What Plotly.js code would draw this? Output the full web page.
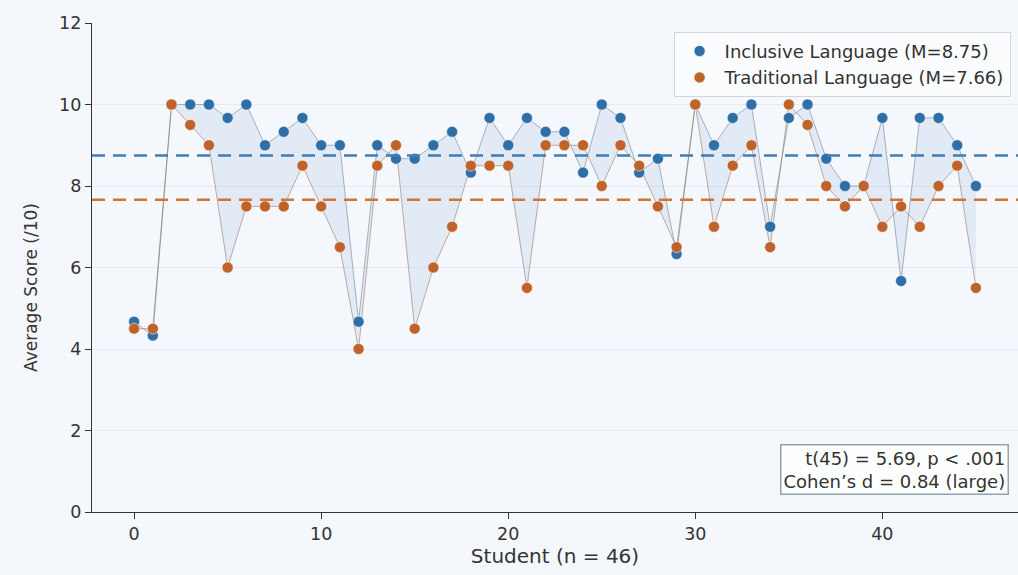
<!DOCTYPE html>
<html>
<head>
<meta charset="utf-8">
<script src="https://cdn.plot.ly/plotly-3.0.1.min.js"></script>
<style>html,body{margin:0;padding:0;background:#f4f7fb;}#chart{width:1018px;height:575px;}</style>
</head>
<body>
<div id="chart"></div>
<script>
const students = Array.from({length: 46}, (_, i) => i);
const inclusive = [4.67,4.33,10,10,10,9.67,10,9,9.33,9.67,
  9,9,4.67,9,8.67,8.67,9,9.33,8.33,9.67,
  9,9.67,9.33,9.33,8.33,10,9.67,8.33,8.67,6.33,
  10,9,9.67,10,7,9.67,10,8.67,8,8,
  9.67,5.67,9.67,9.67,9,8];
const traditional = [4.5,4.5,10,9.5,9,6,7.5,7.5,7.5,8.5,
  7.5,6.5,4,8.5,9,4.5,6,7,8.5,8.5,
  8.5,5.5,9,9,9,8,9,8.5,7.5,6.5,
  10,7,8.5,9,6.5,10,9.5,8,7.5,8,
  7,7.5,7,8,8.5,5.5];
const yTicks = [0,2,4,6,8,10,12];
const xTicks = [0,10,20,30,40];

const mean = a => a.reduce((s, v) => s + v, 0) / a.length;
const mInc = mean(inclusive), mTrad = mean(traditional);
const blue = '#2f6fa8', orange = '#c0632a';
const font = 'DejaVu Sans, sans-serif';

const traces = [
  {x: students, y: inclusive, mode: 'lines', line: {color: 'rgba(110,120,135,0.55)', width: 1}, showlegend: false, hoverinfo: 'skip'},
  {x: students, y: traditional, mode: 'lines', line: {color: 'rgba(150,110,95,0.55)', width: 1}, fill: 'tonexty', fillcolor: 'rgba(60,130,200,0.10)', showlegend: false, hoverinfo: 'skip'},
  {x: students, y: inclusive, mode: 'markers', name: 'Inclusive Language (M=' + mInc.toFixed(2) + ')',
   marker: {color: blue, size: 11, line: {color: 'rgba(255,255,255,0.5)', width: 1}}},
  {x: students, y: traditional, mode: 'markers', name: 'Traditional Language (M=' + mTrad.toFixed(2) + ')',
   marker: {color: orange, size: 11, line: {color: 'rgba(255,255,255,0.5)', width: 1}}}
];

const layout = {
  width: 1018, height: 575,
  paper_bgcolor: '#f4f7fb', plot_bgcolor: '#f4f7fb',
  margin: {l: 92, r: 0, t: 23, b: 63},
  font: {family: font, size: 17, color: '#333'},
  xaxis: {range: [-2.25, 47.25], tickvals: xTicks, ticks: 'outside', ticklen: 6, tickcolor: '#333',
    showgrid: false, zeroline: false, showline: true, linecolor: '#333', linewidth: 1.2,
    title: {text: 'Student (n = 46)', font: {size: 20, color: '#333'}, standoff: 2}, tickfont: {size: 17.5}},
  yaxis: {range: [0, 12], tickvals: yTicks, ticks: 'outside', ticklen: 6, tickcolor: '#333',
    showgrid: true, gridcolor: 'rgba(225,232,242,0.9)', zeroline: false, showline: true, linecolor: '#333', linewidth: 1.2,
    tickfont: {size: 17.5}},
  legend: {x: 0.992, y: 0.982, xanchor: 'right', yanchor: 'top', bgcolor: 'rgba(255,255,255,0.6)', traceorder: 'normal',
    bordercolor: '#d3d6da', borderwidth: 1, font: {size: 18, color: '#333'}, itemwidth: 40, tracegroupgap: 0},
  shapes: [
    {type: 'line', xref: 'paper', x0: 0, x1: 1, yref: 'y', y0: mInc, y1: mInc, line: {color: '#3f7db5', width: 2.5, dash: '13px,8px'}},
    {type: 'line', xref: 'paper', x0: 0, x1: 1, yref: 'y', y0: mTrad, y1: mTrad, line: {color: '#cd7638', width: 2.5, dash: '13px,8px'}}
  ],
  annotations: [{
    xref: 'paper', yref: 'paper', x: 0.99, y: 0.035, xanchor: 'right', yanchor: 'bottom',
    text: 't(45) = 5.69, p < .001<br>Cohen\u2019s d = 0.84 (large)', align: 'right', showarrow: false,
    font: {size: 18, color: '#333'}, bgcolor: 'rgba(255,255,255,0.8)', bordercolor: '#8fa3b3', borderwidth: 1.5, borderpad: 2
  }, {
    xref: 'paper', yref: 'paper', x: -0.066, y: 0.46, xanchor: 'center', yanchor: 'middle', textangle: -90,
    text: 'Average Score (/10)', showarrow: false, font: {size: 17, color: '#333'}
  }]
};

Plotly.newPlot('chart', traces, layout, {displayModeBar: false, staticPlot: true});
</script>
</body>
</html>
